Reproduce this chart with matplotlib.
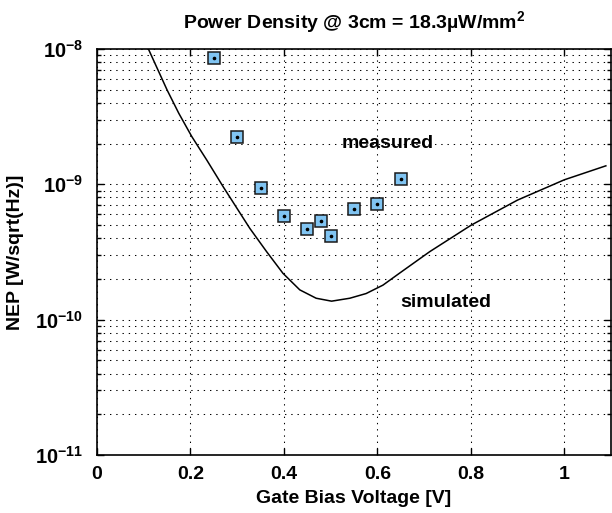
import math
import matplotlib
matplotlib.use("Agg")
import matplotlib.pyplot as plt
from matplotlib.ticker import FixedLocator, FuncFormatter, NullFormatter

plt.rcParams['font.family'] = ['Liberation Sans', 'DejaVu Sans']
plt.rcParams['font.weight'] = 'bold'
plt.rcParams['mathtext.fontset'] = 'custom'
plt.rcParams['mathtext.rm'] = 'Liberation Sans:bold'
plt.rcParams['mathtext.bf'] = 'Liberation Sans:bold'
plt.rcParams['mathtext.it'] = 'Liberation Sans:bold'
plt.rcParams['mathtext.default'] = 'bf'

# measured data
meas_v = [0.25, 0.30, 0.35, 0.40, 0.45, 0.48, 0.50, 0.55, 0.60, 0.65]
meas_nep = [8.6e-9, 2.25e-9, 9.4e-10, 5.86e-10, 4.70e-10, 5.33e-10, 4.15e-10,
            6.56e-10, 7.19e-10, 1.10e-9]

# simulated curve
sim_v = [0.110, 0.150, 0.175, 0.203, 0.235, 0.270, 0.327, 0.363, 0.398,
         0.434, 0.469, 0.502, 0.541, 0.576, 0.612, 0.647, 0.712, 0.801, 0.900,
         1.000, 1.089]
sim_nep = [1.0e-8, 4.98e-9, 3.35e-9, 2.25e-9, 1.51e-9, 9.6e-10, 4.73e-10,
           3.18e-10, 2.20e-10, 1.66e-10, 1.44e-10, 1.37e-10, 1.44e-10, 1.56e-10,
           1.80e-10, 2.20e-10, 3.18e-10, 5.0e-10, 7.65e-10, 1.08e-9, 1.37e-9]

x_ticks = [0, 0.2, 0.4, 0.6, 0.8, 1.0]
x_tick_labels = ['0', '0.2', '0.4', '0.6', '0.8', '1']
y_exponents = [-11, -10, -9, -8]
title = 'Power Density @ 3cm = 18.3µW/mm$^{2}$'
xlabel = 'Gate Bias Voltage [V]'
ylabel = 'NEP [W/sqrt(Hz)]'

FS = 14

fig = plt.figure(figsize=(6.12, 5.13), dpi=100)
ax = fig.add_axes([97/612, 1-455/513, (611-97)/612, (455-49)/513])

ax.set_yscale('log')
ax.set_xlim(0, 1.1)
ax.set_ylim(1e-11, 1e-8)

ax.plot(sim_v, sim_nep, color='k', lw=1.1, zorder=3)
ax.plot(meas_v, meas_nep, linestyle='none', marker='s', markersize=8.5,
        markerfacecolor='#80c4f2', markeredgecolor='#1a1a1a', markeredgewidth=1.1, zorder=4)
ax.plot(meas_v, meas_nep, linestyle='none', marker='o', markersize=1.6,
        color='k', zorder=5)

ax.text(0.622, 2.02e-9, 'measured', fontsize=FS, fontweight='bold', ha='center', va='center')
ax.text(0.746, 1.33e-10, 'simulated', fontsize=FS, fontweight='bold', ha='center', va='center')

ax.xaxis.set_major_locator(FixedLocator(x_ticks))
ax.set_xticklabels(x_tick_labels)
major_y = [10.0 ** e for e in y_exponents]
minor_y = [m * 10.0 ** e for e in y_exponents[:-1] for m in range(2, 10)]
ax.yaxis.set_major_locator(FixedLocator(major_y))
ax.yaxis.set_minor_locator(FixedLocator(minor_y))
ax.yaxis.set_major_formatter(FuncFormatter(lambda v, p: r'$10^{%d}$' % round(math.log10(v))))
ax.yaxis.set_minor_formatter(NullFormatter())

dot = (0, (1.3, 4.7))
ax.grid(True, which='major', axis='x', color='k', lw=0.75, linestyle=dot)
ax.grid(True, which='both', axis='y', color='k', lw=0.75, linestyle=dot)

ax.tick_params(which='both', direction='in', top=True, right=True, labelsize=FS, width=1.0)
ax.tick_params(which='major', length=5)
ax.tick_params(which='minor', length=3)
ax.tick_params(axis='x', pad=8)
ax.tick_params(axis='y', pad=10, labelsize=14.5)
for s in ax.spines.values():
    s.set_linewidth(1.2)

ax.set_title(title, fontsize=FS, fontweight='bold', pad=15)
ax.set_xlabel(xlabel, fontsize=FS, fontweight='bold', labelpad=5)
ax.set_ylabel(ylabel, fontsize=FS, fontweight='bold', labelpad=8)

fig.savefig('out.png', dpi=100)
